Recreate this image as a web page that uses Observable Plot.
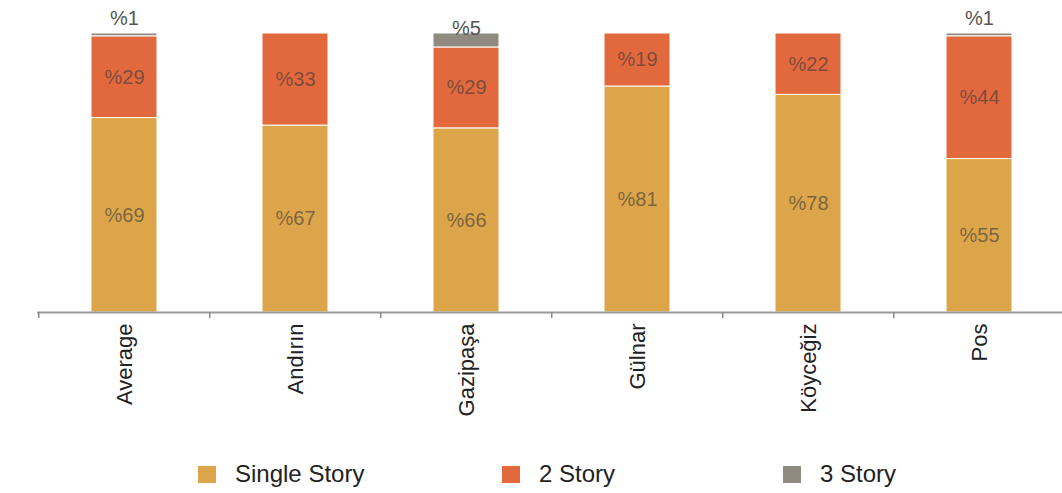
<!DOCTYPE html>
<html><head><meta charset="utf-8">
<script src="https://cdn.jsdelivr.net/npm/d3@7"></script>
<script src="https://cdn.jsdelivr.net/npm/@observablehq/plot@0.6"></script>
<style>
body{margin:0;background:#fff;font-family:"Liberation Sans",Arial,sans-serif;}
#legend{position:relative;height:53px;width:1062px;}
.item{position:absolute;top:21px;display:flex;align-items:center;font-size:24px;color:#222;line-height:26px;}
.sw{width:18px;height:17px;margin-right:19px;}
</style></head><body><div id="chart"></div><div id="legend"></div>
<script>
const districts = ["Average","Andırın","Gazipaşa","Gülnar","Köyceğiz","Pos"];
const types = ["Single Story","2 Story","3 Story"];
const singleStory = [69,67,66,81,78,55];
const twoStory = [29,33,29,19,22,44];
const threeStory = [1,0,5,0,0,1];
const colors = ["#DCA54A","#E2683E","#908B80"];
const legendLeft = [198,502,783];

const series = [singleStory, twoStory, threeStory];
const data = [];
districts.forEach((d,i)=>{
  types.forEach((t,j)=>{
    if (series[j][i] > 0) data.push({district:d, type:t, value:series[j][i]});
  });
});

const W = 1062, H = 440;
const x0 = 37, x1 = 1066;
const step = (x1 - x0) / districts.length;
const top3 = data.filter(d => d.type === "3 Story");

const chart = Plot.plot({
  width: W, height: H,
  marginTop: 33, marginBottom: H - 312, marginLeft: x0, marginRight: 0,
  style: {fontFamily: "Liberation Sans, Arial, sans-serif", background: "#fff"},
  x: {domain: districts, range: [x0, x1], paddingInner: 0.615, paddingOuter: 0.3075, axis: null},
  y: {domain: [0, 1], axis: null},
  color: {domain: types, range: colors},
  marks: [
    Plot.barY(data, Plot.stackY({x: "district", y: "value", fill: "type", order: null, offset: "normalize", stroke: "white", strokeWidth: 1})),
    Plot.text(data, Plot.stackY({x: "district", y: "value", order: null, offset: "normalize",
      text: d => d.type === "3 Story" ? null : "%" + d.value, fontSize: 20, fill: "#3a3a3a", fillOpacity: 0.62})),
    Plot.text(top3.filter(d => d.value < 3), Plot.stackY2({x: "district", y: "value", offset: "normalize",
      text: d => "%" + d.value, dy: -15, fontSize: 20, fill: "#555"})),
    Plot.text(top3.filter(d => d.value >= 3), Plot.stackY2({x: "district", y: "value", offset: "normalize",
      text: d => "%" + d.value, dy: -5, fontSize: 20, fill: "#555"})),
    Plot.ruleY([0], {stroke: "#9a9a9a", strokeWidth: 2}),
    Plot.axisX({tickSize: 6, tickFormat: () => "", dx: -step / 2, stroke: "#8a8a8a", strokeWidth: 1.5, label: null}),
    Plot.axisX({tickSize: 0, tickPadding: 11, tickRotate: -90, fontSize: 22, fill: "#222", label: null})
  ]
});
document.getElementById("chart").appendChild(chart);

const lg = document.getElementById("legend");
types.forEach((t,i)=>{
  const it = document.createElement("div");
  it.className = "item";
  it.style.left = legendLeft[i] + "px";
  const sw = document.createElement("span");
  sw.className = "sw"; sw.style.background = colors[i];
  const tx = document.createElement("span");
  tx.textContent = t;
  it.appendChild(sw); it.appendChild(tx);
  lg.appendChild(it);
});
</script></body></html>
